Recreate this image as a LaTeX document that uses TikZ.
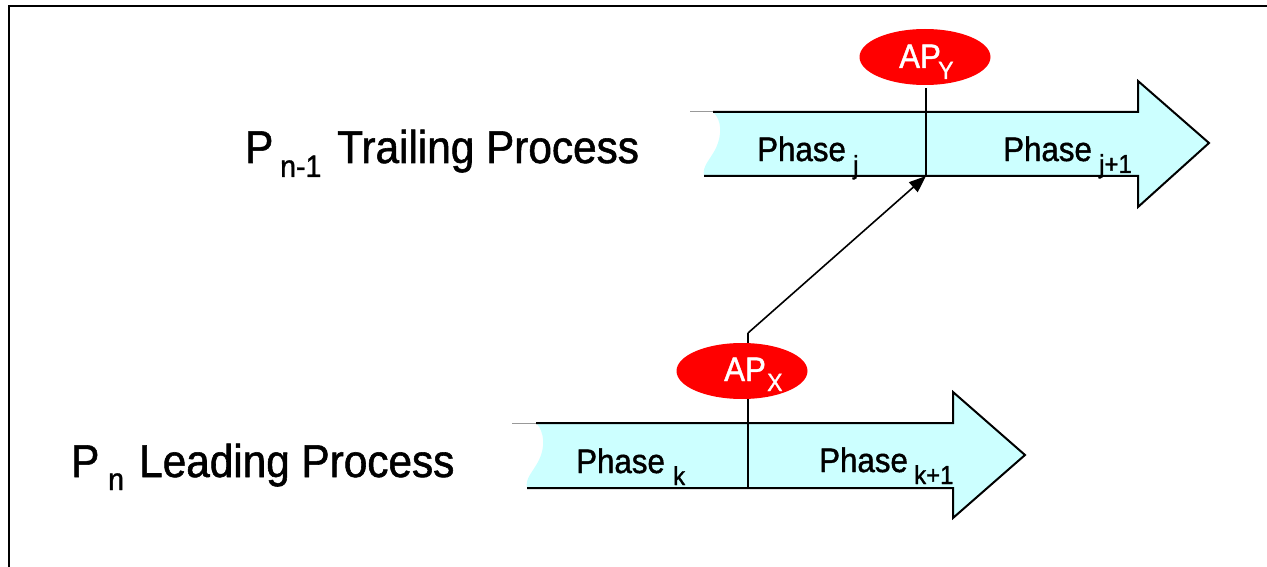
\documentclass[tikz,border=0pt]{standalone}
\usepackage{fontspec}
\setmainfont{Liberation Sans}[FakeStretch=0.92,FakeBold=1.2]
\usetikzlibrary{arrows.meta,shapes.geometric}
\definecolor{cyanfill}{HTML}{CCFFFF}
\definecolor{apred}{HTML}{FF0000}
\newcommand\LabBig{\fontsize{46}{46}\selectfont}
\newcommand\LabBigSub{\fontsize{31}{31}\selectfont}
\newcommand\LabPh{\fontsize{34}{34}\selectfont}
\newcommand\LabPhSub{\fontsize{26}{26}\selectfont}
\newcommand\LabAP{\fontsize{34}{34}\selectfont}
\newcommand\LabAPSub{\fontsize{25}{25}\selectfont}
\begin{document}
\begin{tikzpicture}[x=1pt,y=-1pt,
  outline/.style={line width=2pt, line join=miter},
  grayline/.style={line width=1pt, draw=black!40},
  divline/.style={line width=2pt},
  conn/.style={line width=1.6pt, -{Triangle[length=17pt,width=13pt]}},
  apnode/.style={ellipse, fill=apred, draw=none, minimum width=131pt, minimum height=56pt, inner sep=0pt},
  txt/.style={anchor=base west, inner sep=0pt},
  frame/.style={line width=2pt}]
\useasboundingbox (0,0) rectangle (1267,567);
% frame
\draw[frame] (1270,6) -- (9,6) -- (9,570);

% ---------- upper arrow (P n-1) ----------
\fill[cyanfill] (713,112) -- (1138,112) -- (1138,81) -- (1209,143) -- (1138,207) -- (1138,176) -- (704,176)
   .. controls (702,166) and (710,160) .. (716,148)
   .. controls (722,135) and (722,120) .. (713,112) -- cycle;
\draw[grayline] (690,112) -- (713,112);
\draw[outline] (713,112) -- (1138,112) -- (1138,81) -- (1209,143) -- (1138,207) -- (1138,176) -- (704,176);

% ---------- lower arrow (P n) ----------
\fill[cyanfill] (536,423) -- (953,423) -- (953,392) -- (1025,455) -- (953,518) -- (953,488) -- (527,488)
   .. controls (525,478) and (533,472) .. (539,460)
   .. controls (545,448) and (545,432) .. (536,423) -- cycle;
\draw[grayline] (512,423) -- (536,423);
\draw[outline] (536,423) -- (953,423) -- (953,392) -- (1025,455) -- (953,518) -- (953,488) -- (527,488);

% dividers and connector
\coordinate (dyT) at (926,88);
\coordinate (dyB) at (926,176);
\coordinate (dxB) at (748,488);
\coordinate (cx) at (748,333);
\draw[divline] (dyT) -- (dyB);
\draw[divline] (dxB) -- (cx);
\draw[conn] (cx) -- (dyB);

% AP ellipses
\node[apnode] (apy) at (925,57) {};
\node[apnode] (apx) at (742,371) {};
\node[txt, text=white] (apyt) at (899,68) {\LabAP AP};
\node[txt, text=white] (apys) at (938,79) {\LabAPSub Y};
\node[txt, text=white] (apxt) at (724,381) {\LabAP AP};
\node[txt, text=white] (apxs) at (767,391) {\LabAPSub X};

% phase labels
\node[txt] (phj) at (757,161) {\LabPh Phase};
\node[txt] (phjs) at (853,174) {\LabPhSub j};
\node[txt] (phj1) at (1003,161) {\LabPh Phase};
\node[txt] (phj1s) at (1099,173) {\LabPhSub j+1};
\node[txt] (phk) at (576,473) {\LabPh Phase};
\node[txt] (phks) at (673,485) {\LabPhSub k};
\node[txt] (phk1) at (819,472) {\LabPh Phase};
\node[txt] (phk1s) at (914,484) {\LabPhSub k+1};

% process labels
\node[txt] (p1) at (245,163) {\LabBig P};
\node[txt] (p1s) at (280,177) {\LabBigSub n-1};
\node[txt] (p1t) at (337,163) {\LabBig Trailing Process};
\node[txt] (p2) at (71,477) {\LabBig P};
\node[txt] (p2s) at (108,490) {\LabBigSub n};
\node[txt] (p2t) at (139,477) {\LabBig Leading Process};
\end{tikzpicture}
\end{document}
